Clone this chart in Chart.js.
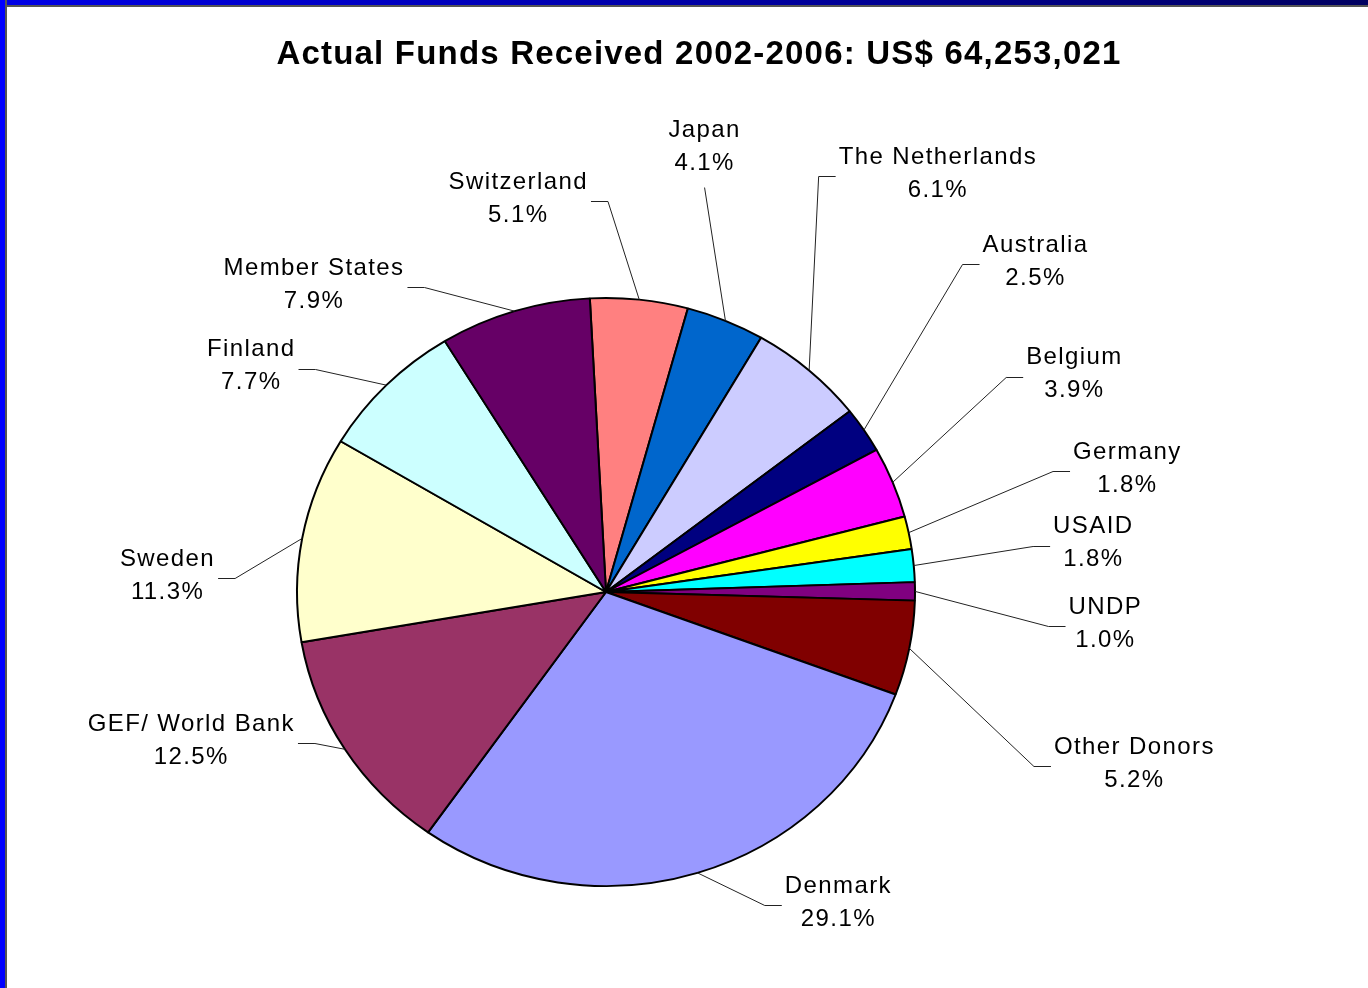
<!DOCTYPE html>
<html>
<head>
<meta charset="utf-8">
<title>Actual Funds Received 2002-2006</title>
<script src="https://cdn.jsdelivr.net/npm/chart.js@4.4.1/dist/chart.umd.min.js"></script>
<style>
  html, body { margin: 0; padding: 0; background: #fff; }
  #wrap { position: relative; width: 1368px; height: 988px; overflow: hidden; background: #fff; }
  #topbar { position: absolute; left: 0; top: 0; width: 1368px; height: 5px;
    background: linear-gradient(to right, #0000e6, #0000a0 55%, #000060); border-bottom: 2px solid #555; }
  #leftbar { position: absolute; left: 0; top: 0; width: 5px; height: 988px;
    background: #0000ff; border-right: 2px solid #555; }
  #box { position: absolute; left: 0; top: 0; width: 1368px; height: 988px; }
</style>
</head>
<body>
<div id="wrap">
  <div id="topbar"></div>
  <div id="leftbar"></div>
  <div id="box"><canvas id="fundsChart"></canvas></div>
</div>
<script>
// Donor shares of funds received 2002-2006 (percent), clockwise from the top
const donors = ['Switzerland', 'Japan', 'The Netherlands', 'Australia', 'Belgium', 'Germany',
  'USAID', 'UNDP', 'Other Donors', 'Denmark', 'GEF/ World Bank', 'Sweden', 'Finland', 'Member States'];
const shares = [5.1, 4.1, 6.1, 2.5, 3.9, 1.8, 1.8, 1.0, 5.2, 29.1, 12.5, 11.3, 7.7, 7.9];
const sliceColors = ['#ff8080', '#0066cc', '#ccccff', '#000080', '#ff00ff', '#ffff00',
  '#00ffff', '#800080', '#800000', '#9999ff', '#993366', '#ffffcc', '#ccffff', '#660066'];

const chartTitle = 'Actual Funds Received 2002-2006: US$ 64,253,021';

// where each callout sits, relative to the pie centre, in pie radii
const labelOffsets = [
  [-0.284, -1.273], [0.319, -1.440], [1.074, -1.353], [1.390, -1.069],
  [1.516, -0.705], [1.687, -0.400], [1.577, -0.158], [1.616, 0.103],
  [1.710, 0.556], [0.752, 1.006], [-1.342, 0.481], [-1.419, -0.052],
  [-1.148, -0.731], [-0.945, -0.995]
];

const FONT = '"Liberation Sans", Arial, sans-serif';
const squash = 295 / 310; // the slide pie is a little flatter than round
const lineGap = 33;

const flatPie = {
  id: 'flatPie',
  beforeDatasetsDraw(chart) {
    const arc = chart.getDatasetMeta(0).data[0];
    const ctx = chart.ctx;
    ctx.save();
    ctx.translate(arc.x, arc.y);
    ctx.scale(1, squash);
    ctx.translate(-arc.x, -arc.y);
  },
  afterDatasetsDraw(chart) {
    chart.ctx.restore();
  }
};

const callouts = {
  id: 'callouts',
  afterDraw(chart) {
    const ctx = chart.ctx;
    const meta = chart.getDatasetMeta(0);
    ctx.save();

    // title
    ctx.font = 'bold 33px ' + FONT;
    ctx.letterSpacing = '1.2px';
    ctx.fillStyle = '#000';
    ctx.textAlign = 'center';
    ctx.textBaseline = 'middle';
    ctx.fillText(chartTitle, 699, 55);

    ctx.font = '24px ' + FONT;
    ctx.letterSpacing = '1.4px';
    ctx.strokeStyle = '#222';
    ctx.lineWidth = 1;

    meta.data.forEach((arc, i) => {
      const r = arc.outerRadius;
      const mid = (arc.startAngle + arc.endAngle) / 2;
      const ex = arc.x + Math.cos(mid) * r;
      const ey = arc.y + Math.sin(mid) * r * squash;
      const lx = arc.x + labelOffsets[i][0] * r;
      const ly = arc.y + labelOffsets[i][1] * r;
      const lines = [donors[i], shares[i].toFixed(1) + '%'];

      ctx.fillText(lines[0], lx, ly - lineGap / 2);
      ctx.fillText(lines[1], lx, ly + lineGap / 2);
      const w = Math.max(...lines.map(t => ctx.measureText(t).width));

      ctx.beginPath();
      if (ex > lx - w / 2 && ex < lx + w / 2) {
        // slice edge sits right under the label
        ctx.moveTo(lx, ly + lineGap / 2 + 24);
        ctx.lineTo(ex, ey);
      } else {
        const side = ex > lx ? 1 : -1;
        const sx = lx + side * (w / 2 + 3);
        const sy = Math.round(ly + 2.5) + 0.5;
        ctx.moveTo(sx, sy);
        ctx.lineTo(sx + side * 17, sy);
        ctx.lineTo(ex, ey);
      }
      ctx.stroke();
    });
    ctx.restore();
  }
};

Chart.defaults.font.family = FONT;

new Chart(document.getElementById('fundsChart'), {
  type: 'pie',
  data: {
    labels: donors,
    datasets: [{
      data: shares,
      backgroundColor: sliceColors,
      borderColor: '#000',
      borderWidth: 2,
      hoverOffset: 0,
      offset: 0
    }]
  },
  options: {
    responsive: true,
    maintainAspectRatio: false,
    animation: false,
    events: [],
    rotation: -3,
    layout: {
      padding: { left: 296, right: 452, top: 282, bottom: 86 }
    },
    plugins: {
      legend: { display: false },
      title: { display: false },
      tooltip: { enabled: false }
    }
  },
  plugins: [flatPie, callouts]
});
</script>
</body>
</html>
